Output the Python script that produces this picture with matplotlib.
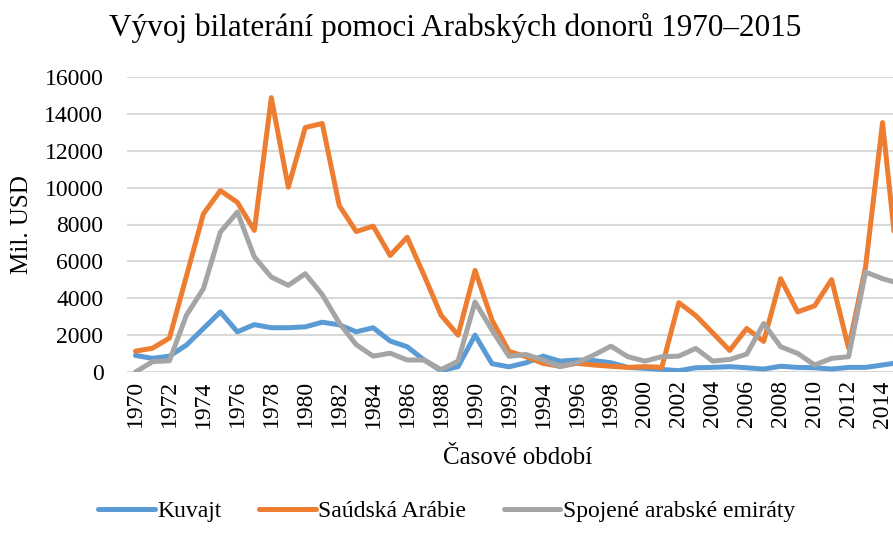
import matplotlib
matplotlib.use('Agg')
import matplotlib.pyplot as plt

years = list(range(1970, 2016))

kuvajt = [900, 740, 860, 1460, 2360, 3260, 2180, 2570, 2400, 2400,
          2450, 2700, 2560, 2180, 2400, 1680, 1370, 650, 70, 290,
          2000, 450, 280, 500, 860, 590, 650, 620, 500, 250,
          200, 140, 70, 230, 250, 290, 230, 160, 310, 250,
          230, 160, 250, 250, 380, 520]

saudska = [1130, 1290, 1840, 5200, 8580, 9840, 9200, 7680, 14880, 10020,
           13260, 13480, 9030, 7620, 7910, 6320, 7310, 5240, 3080, 2000,
           5510, 2810, 1120, 830, 470, 310, 470, 380, 310, 250,
           290, 250, 3760, 3060, 2120, 1170, 2360, 1660, 5060, 3260,
           3590, 5010, 1300, 5700, 13530, 4800]

sae = [0, 560, 610, 3080, 4520, 7590, 8670, 6240, 5150, 4700,
       5330, 4200, 2660, 1480, 860, 1020, 650, 650, 130, 590,
       3800, 2270, 850, 950, 650, 290, 500, 920, 1400, 830,
       590, 830, 860, 1280, 590, 680, 970, 2630, 1370, 1010,
       380, 740, 830, 5420, 5060, 4800]

series = [('Kuvajt', kuvajt, '#5B9BD5'),
          ('Saúdská Arábie', saudska, '#ED7D31'),
          ('Spojené arabské emiráty', sae, '#A5A5A5')]

plt.rcParams['font.family'] = ['Liberation Serif', 'DejaVu Serif']

fig = plt.figure(figsize=(8.93, 5.37), dpi=100)
# plot area runs past the right edge, like the cropped original
ax = fig.add_axes([127 / 893, 165 / 537, 781 / 893, 295 / 537])

for name, vals, col in series:
    ax.plot(years, vals, color=col, linewidth=3.6, label=name,
            solid_capstyle='round', solid_joinstyle='round')

ax.set_xlim(1969.5, 2015.5)
ax.set_ylim(0, 16000)
ax.set_yticks(range(0, 16001, 2000))
ax.set_xticks(range(1970, 2016, 2))
ax.set_xticklabels([str(y) for y in range(1970, 2016, 2)], rotation=90)
ax.tick_params(axis='y', length=0, pad=17, labelsize=17)
ax.tick_params(axis='x', length=0, pad=6, labelsize=17)
ax.grid(axis='y', color='#D9D9D9', linewidth=1.5)
ax.set_axisbelow(True)
for s in ax.spines.values():
    s.set_visible(False)

ax.set_ylabel('Mil. USD', fontsize=18, labelpad=8)
ax.set_xlabel('Časové období', fontsize=18, labelpad=14)
fig.text(0.51, 0.948, 'Vývoj bilaterání pomoci Arabských donorů 1970–2015',
         fontsize=22.5, ha='center', va='center')

fig.legend(loc='lower center', bbox_to_anchor=(0.5, -0.012), ncol=3,
           frameon=False, fontsize=17, handlelength=2.4, handletextpad=0.1,
           columnspacing=1.6)

fig.savefig('out.png', dpi=100)
